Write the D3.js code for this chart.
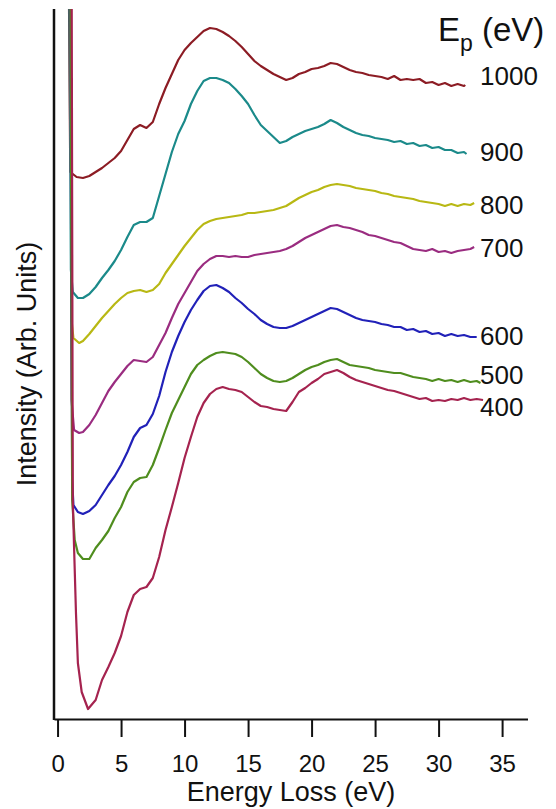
<!DOCTYPE html>
<html>
<head>
<meta charset="utf-8">
<script src="https://cdn.jsdelivr.net/npm/d3@7"></script>
<style>
  html, body { margin: 0; padding: 0; background: #fff; }
  svg { display: block; }
  text { font-family: "Liberation Sans", Arial, Helvetica, sans-serif; fill: #111; }
</style>
</head>
<body>
<svg id="chart" width="556" height="809"></svg>
<script>
// Primary beam energies (eV), top to bottom
const beamEnergies = ["1000", "900", "800", "700", "600", "500", "400"];

// EELS spectra: [energy loss (eV), intensity (arb. units, offset for clarity)]
const ep1000 = [[0.85,80],[1.0,54.7],[1.5,54.2],[2,54.1],[2.5,54.3],[3,54.7],[3.5,55.1],[4,55.6],[4.5,56.1],[5,56.8],[5.5,57.9],[6,59.0],[6.5,59.4],[7,59.1],[7.5,59.7],[8,61.5],[8.5,63.1],[9,64.5],[9.5,65.9],[10,66.9],[10.5,67.6],[11,68.2],[11.5,68.8],[12,69.1],[12.5,69.0],[13,68.7],[13.5,68.3],[14,67.8],[14.5,67.2],[15,66.5],[15.5,65.8],[16,65.3],[16.5,64.9],[17,64.5],[17.5,64.2],[18,63.9],[18.5,64.1],[19,64.5],[19.5,64.7],[20,65.0],[20.5,65.1],[21,65.3],[21.5,65.6],[22,65.5],[22.5,65.2],[23,64.9],[23.5,64.7],[24,64.6],[24.5,64.4],[25,64.3],[25.5,64.2],[26,64.0],[26.5,64.3],[27,63.9],[27.5,64.0],[28,63.9],[28.5,64.0],[29,63.6],[29.5,63.7],[30,63.4],[30.5,63.6],[31,63.3],[31.5,63.5],[32,63.3],[32.1,63.4]];
const ep900 = [[0.9,80],[1.05,44.9],[1.2,42.7],[1.6,42.1],[2,42.1],[2.5,42.5],[3,43.2],[3.5,44.1],[4,44.9],[4.5,45.8],[5,46.9],[5.5,48.2],[6,49.4],[6.5,49.7],[7,49.7],[7.5,50.1],[8,52.3],[8.5,54.5],[9,56.7],[9.5,58.5],[10,59.8],[10.5,61.5],[11,62.8],[11.5,63.8],[12,64.1],[12.5,64.1],[13,63.9],[13.5,63.6],[14,63.0],[14.5,62.3],[15,61.5],[15.5,60.4],[16,59.4],[16.5,58.8],[17,58.2],[17.5,57.6],[18,57.8],[18.5,58.2],[19,58.5],[19.5,58.8],[20,59.0],[20.5,59.2],[21,59.5],[21.5,59.9],[22,59.6],[22.5,59.2],[23,58.9],[23.5,58.6],[24,58.4],[24.5,58.3],[25,58.1],[25.5,58.0],[26,57.9],[26.5,57.7],[27,57.8],[27.5,57.5],[28,57.6],[28.5,57.3],[29,57.4],[29.5,57.1],[30,57.2],[30.5,56.9],[31,56.9],[31.5,56.6],[32,56.7],[32.2,56.5]];
const ep800 = [[1.0,80],[1.1,39.9],[1.25,38.1],[1.7,37.6],[2,37.8],[2.5,38.5],[3,39.3],[3.5,40.1],[4,40.8],[4.5,41.5],[5,42.1],[5.5,42.6],[6,42.8],[6.5,42.9],[7,42.7],[7.5,42.9],[8,43.5],[8.5,44.6],[9,45.5],[9.5,46.4],[10,47.3],[10.5,48.1],[11,48.9],[11.5,49.5],[12,49.8],[12.5,50.0],[13,50.1],[13.5,50.2],[14,50.3],[14.5,50.4],[15,50.6],[15.5,50.6],[16,50.7],[16.5,50.8],[17,50.9],[17.5,51.1],[18,51.3],[18.5,51.7],[19,52.1],[19.5,52.4],[20,52.7],[20.5,52.9],[21,53.2],[21.5,53.4],[22,53.5],[22.5,53.4],[23,53.3],[23.5,53.1],[24,53.0],[24.5,52.9],[25,52.8],[25.5,52.6],[26,52.5],[26.5,52.3],[27,52.2],[27.5,52.1],[28,52.0],[28.5,51.8],[29,51.7],[29.5,51.6],[30,51.5],[30.5,51.3],[31,51.5],[31.5,51.3],[32,51.5],[32.5,51.4],[32.8,51.6]];
const ep700 = [[1.0,80],[1.1,31.9],[1.3,28.9],[1.7,28.6],[2,28.7],[2.5,29.4],[3,30.4],[3.5,31.6],[4,32.8],[4.5,33.7],[5,34.5],[5.5,35.3],[6,35.9],[6.5,35.8],[7,35.7],[7.5,36.2],[8,37.4],[8.5,38.6],[9,40.1],[9.5,41.5],[10,42.6],[10.5,43.7],[11,44.8],[11.5,45.5],[12,46.0],[12.5,46.3],[13,46.3],[13.5,46.2],[14,46.3],[14.5,46.2],[15,46.2],[15.5,46.4],[16,46.5],[16.5,46.6],[17,46.7],[17.5,46.8],[18,47.0],[18.5,47.3],[19,47.7],[19.5,48.1],[20,48.4],[20.5,48.7],[21,49.0],[21.5,49.3],[22,49.4],[22.5,49.2],[23,49.1],[23.5,48.9],[24,48.7],[24.5,48.4],[25,48.3],[25.5,48.1],[26,47.9],[26.5,47.7],[27,47.6],[27.5,47.3],[28,47.0],[28.5,46.9],[29,46.8],[29.5,47.0],[30,46.7],[30.5,46.8],[31,46.6],[31.5,46.8],[32,46.9],[32.5,47.0],[32.8,47.2]];
const ep600 = [[1.0,80],[1.15,23.9],[1.25,21.4],[1.6,20.7],[2,20.5],[2.5,20.8],[3,21.4],[3.5,22.4],[4,23.4],[4.5,24.3],[5,25.4],[5.5,26.7],[6,28.2],[6.5,29.1],[7,29.4],[7.5,30.5],[8,32.3],[8.5,34.7],[9,36.7],[9.5,38.3],[10,39.7],[10.5,40.9],[11,41.9],[11.5,42.8],[12,43.3],[12.5,43.4],[13,43.1],[13.5,42.7],[14,42.1],[14.5,41.6],[15,41.0],[15.5,40.5],[16,39.9],[16.5,39.5],[17,39.2],[17.5,39.1],[18,39.1],[18.5,39.3],[19,39.6],[19.5,39.9],[20,40.2],[20.5,40.5],[21,40.8],[21.5,41.1],[22,41.0],[22.5,40.7],[23,40.4],[23.5,40.1],[24,39.9],[24.5,39.8],[25,39.7],[25.5,39.5],[26,39.4],[26.5,39.2],[27,39.2],[27.5,38.9],[28,39.0],[28.5,38.7],[29,38.8],[29.5,38.5],[30,38.6],[30.5,38.3],[31,38.5],[31.5,38.3],[32,38.4],[32.5,38.2],[33,38.2]];
const ep500 = [[1.0,80],[1.15,21.9],[1.35,17.9],[1.6,16.6],[2,16.0],[2.5,16.0],[3,17.1],[3.5,17.9],[4,18.8],[4.5,20.1],[5,21.2],[5.5,22.7],[6,23.7],[6.5,24.1],[7,24.2],[7.5,25.4],[8,27.1],[8.5,28.9],[9,30.6],[9.5,31.9],[10,33.2],[10.5,34.5],[11,35.4],[11.5,35.9],[12,36.3],[12.5,36.6],[13,36.7],[13.5,36.6],[14,36.5],[14.5,36.2],[15,35.7],[15.5,35.1],[16,34.5],[16.5,34.1],[17,33.8],[17.5,33.7],[18,33.8],[18.5,34.1],[19,34.5],[19.5,34.9],[20,35.2],[20.5,35.4],[21,35.7],[21.5,35.9],[22,36.0],[22.5,35.7],[23,35.4],[23.5,35.3],[24,35.2],[24.5,35.1],[25,34.9],[25.5,34.8],[26,34.7],[26.5,34.6],[27,34.6],[27.5,34.4],[28,34.2],[28.5,34.1],[29,34.0],[29.5,33.8],[30,34.0],[30.5,33.8],[31,33.9],[31.5,33.7],[32,33.9],[32.5,33.7],[33,33.8],[33.3,33.6]];
const ep400 = [[1.1,80],[1.2,21.9],[1.3,17.2],[1.45,10.6],[1.6,5.6],[1.9,2.7],[2.4,1.0],[3,1.9],[3.5,3.9],[4,5.2],[4.5,6.6],[5,8.3],[5.5,10.7],[6,12.4],[6.5,13.0],[7,13.2],[7.5,14.1],[8,16.2],[8.5,18.9],[9,21.2],[9.5,23.6],[10,26.1],[10.5,28.2],[11,30.2],[11.5,31.6],[12,32.5],[12.5,33.0],[13,33.2],[13.5,33.0],[14,32.9],[14.5,32.7],[15,32.2],[15.5,31.7],[16,31.3],[16.5,31.2],[17,31.0],[17.5,30.9],[18,30.8],[18.5,31.7],[19,32.7],[19.5,33.1],[20,33.6],[20.5,34.0],[21,34.5],[21.5,34.7],[22,34.9],[22.5,34.6],[23,34.2],[23.5,33.9],[24,33.7],[24.5,33.5],[25,33.3],[25.5,33.1],[26,32.9],[26.5,32.8],[27,32.6],[27.5,32.4],[28,32.2],[28.5,32.0],[29,32.1],[29.5,31.8],[30,31.9],[30.5,31.8],[31,32.0],[31.5,31.9],[32,32.1],[32.5,31.9],[33,32.0],[33.5,31.9]];

const spectra = [ep1000, ep900, ep800, ep700, ep600, ep500, ep400];

// X axis tick values (eV)
const xTicks = [0, 5, 10, 15, 20, 25, 30, 35];

// Line colours per spectrum
const palette = ["#8c1c24", "#1b8a8a", "#b8b814", "#9a2c80", "#2121b8", "#4f8d1e", "#a5234f"];
// Vertical nudges (px) for the energy labels so they don't collide
const labelNudge = [-9, -2, 2, 1, -1, -8, 7];

const svg = d3.select("#chart");
const plot = { left: 54, right: 527.5, top: 9, bottom: 719 };

const x = d3.scaleLinear().domain([-0.28, 37.0]).range([plot.left, plot.right]);
const y = d3.scaleLinear().domain([0, 71]).range([plot.bottom, plot.top]);

svg.append("defs").append("clipPath").attr("id", "plotClip")
  .append("rect")
  .attr("x", plot.left).attr("y", plot.top)
  .attr("width", plot.right - plot.left).attr("height", plot.bottom - plot.top);

const line = d3.line().x(d => x(d[0])).y(d => y(d[1]));

// Spectra
svg.append("g").attr("clip-path", "url(#plotClip)")
  .selectAll("path")
  .data(spectra)
  .join("path")
  .attr("d", line)
  .attr("fill", "none")
  .attr("stroke", (d, i) => palette[i])
  .attr("stroke-width", 2.2)
  .attr("stroke-linejoin", "round");

// Bottom axis
const xAxis = d3.axisBottom(x).tickValues(xTicks).tickSize(18).tickSizeOuter(0).tickFormat(d3.format("d"));
const gx = svg.append("g").attr("transform", `translate(0,${plot.bottom})`).call(xAxis);
gx.select(".domain").attr("stroke", "#111").attr("stroke-width", 2.2);
gx.selectAll(".tick line").attr("stroke", "#111").attr("stroke-width", 2);
gx.selectAll(".tick text")
  .attr("y", 53).attr("dy", 0)
  .style("font-size", "24px")
  .style("font-family", "'Liberation Sans', Arial, sans-serif")
  .attr("fill", "#111");

// Left axis line (no ticks)
svg.append("line")
  .attr("x1", plot.left).attr("x2", plot.left)
  .attr("y1", plot.top).attr("y2", plot.bottom + 1)
  .attr("stroke", "#111").attr("stroke-width", 2.5);

// Axis titles
svg.append("text")
  .attr("x", 291).attr("y", 801)
  .attr("text-anchor", "middle")
  .style("font-size", "27px")
  .text("Energy Loss (eV)");

svg.append("text")
  .attr("transform", "translate(36,364) rotate(-90)")
  .attr("text-anchor", "middle")
  .style("font-size", "27px")
  .text("Intensity (Arb. Units)");

// Beam energy labels at the end of each spectrum
svg.append("g").selectAll("text")
  .data(spectra)
  .join("text")
  .attr("x", 480)
  .attr("y", (d, i) => y(d[d.length - 1][1]) + labelNudge[i])
  .attr("dy", "0.35em")
  .style("font-size", "26px")
  .text((d, i) => beamEnergies[i]);

// Legend heading E_p (eV)
const head = svg.append("text").attr("x", 438).attr("y", 41).style("font-size", "33px");
head.append("tspan").text("E");
head.append("tspan").attr("dy", 10).style("font-size", "23px").text("p");
head.append("tspan").attr("dy", -10).text(" (eV)");
</script>
</body>
</html>
